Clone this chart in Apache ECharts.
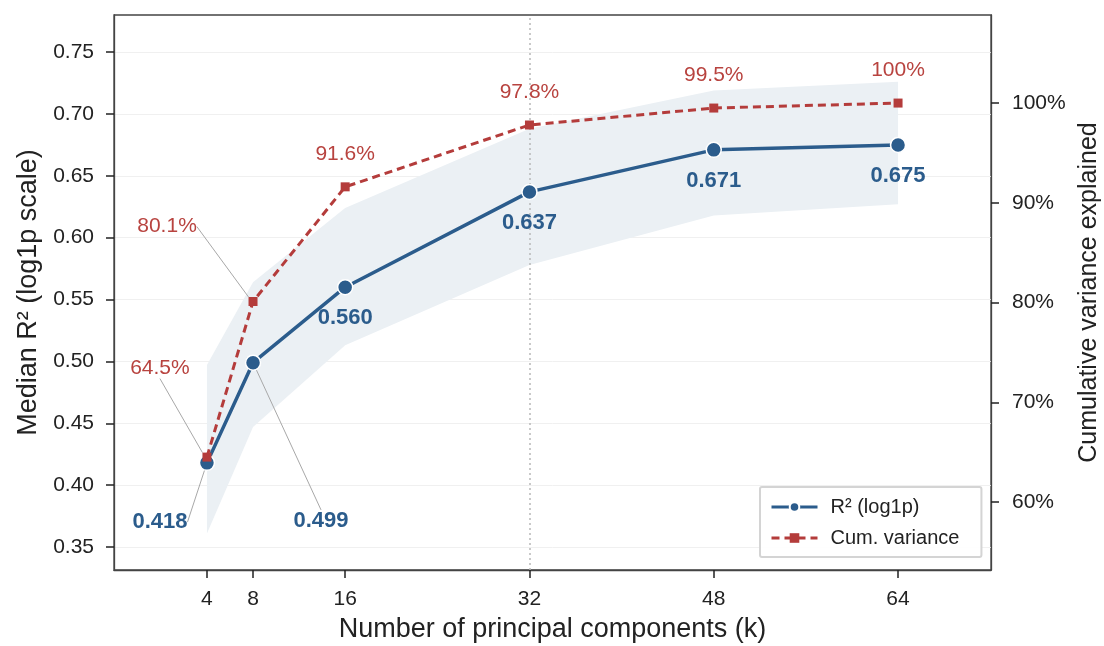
<!DOCTYPE html>
<html>
<head>
<meta charset="utf-8">
<script src="https://cdn.jsdelivr.net/npm/echarts@6/dist/echarts.min.js"></script>
<style>
  html, body { margin: 0; padding: 0; background: #fff; }
  #chart { width: 1104px; height: 646px; }
</style>
</head>
<body>
<div id="chart"></div>
<script>
// ---- data ----
var kValues = [4, 8, 16, 32, 48, 64];
var r2Median = [0.418, 0.499, 0.560, 0.637, 0.671, 0.675];
var r2Lower = [0.361, 0.447, 0.513, 0.578, 0.618, 0.627];
var r2Upper = [0.497, 0.564, 0.624, 0.688, 0.719, 0.726];
var cumVariance = [64.5, 80.1, 91.6, 97.8, 99.5, 100];
var cumLabels = ['64.5%', '80.1%', '91.6%', '97.8%', '99.5%', '100%'];
var xTicks = [4, 8, 16, 32, 48, 64];
var leftTicks = [0.35, 0.40, 0.45, 0.50, 0.55, 0.60, 0.65, 0.70, 0.75];
var rightTicks = [60, 70, 80, 90, 100];
var highlightK = 32;

// ---- style ----
var BLUE = '#2b5c8c';
var RED = '#b43c3b';
var RED_TEXT = '#b8433f';
var BAND = '#ebf0f4';
var FONT = 'Liberation Sans, Arial, sans-serif';

// label offsets (pixels) for labels moved off their default spot
var r2LabelShift = { 0: [-47, 28], 1: [68, 127] };
var cumLabelShift = { 0: [-47, -56], 1: [-86, -42] };

var bandData = kValues.map(function (k, i) { return [k, r2Lower[i], r2Upper[i]]; });

var r2Data = kValues.map(function (k, i) {
  var d = { value: [k, r2Median[i]] };
  if (r2LabelShift[i]) d.labelLine = { show: true };
  return d;
});
var cumData = kValues.map(function (k, i) {
  var d = { value: [k, cumVariance[i]] };
  if (cumLabelShift[i]) d.labelLine = { show: true };
  return d;
});

var chart = echarts.init(document.getElementById('chart'), null, { renderer: 'canvas' });

function renderBand(params, api) {
  if (params.dataIndex !== 0) return null;
  var pts = [];
  var i;
  for (i = 0; i < bandData.length; i++) pts.push(api.coord([bandData[i][0], bandData[i][2]]));
  for (i = bandData.length - 1; i >= 0; i--) pts.push(api.coord([bandData[i][0], bandData[i][1]]));
  return {
    type: 'polygon',
    shape: { points: pts },
    style: { fill: BAND, stroke: null },
    silent: true
  };
}

var option = {
  animation: false,
  backgroundColor: '#fff',
  textStyle: { fontFamily: FONT },
  grid: {
    left: 114, right: 113, top: 15, bottom: 76,
    outerBoundsMode: 'none',
    containLabel: false,
    show: true, borderColor: '#444', borderWidth: 1.3, backgroundColor: 'transparent'
  },
  legend: {
    data: ['R² (log1p)', 'Cum. variance'],
    orient: 'vertical',
    left: 760, top: 487,
    itemWidth: 46, itemHeight: 12, itemGap: 11,
    padding: [10, 22, 9, 10],
    borderColor: '#d4d4d4', borderWidth: 2, borderRadius: 2,
    backgroundColor: 'rgba(255,255,255,0.9)',
    lineStyle: { width: 3 },
    textStyle: { fontSize: 20, color: '#222', fontFamily: FONT, padding: [0, 0, 0, 8] }
  },
  xAxis: {
    type: 'value',
    min: -4.07, max: 72.07,
    name: 'Number of principal components (k)',
    nameLocation: 'middle', nameGap: 46,
    nameTextStyle: { fontSize: 27, color: '#222', fontFamily: FONT },
    axisLine: { show: true, onZero: false, lineStyle: { color: '#444', width: 1.3 } },
    axisTick: { show: true, customValues: xTicks, length: 8, lineStyle: { color: '#222', width: 1.5 } },
    axisLabel: { customValues: xTicks, fontSize: 21, color: '#222', margin: 19, fontFamily: FONT },
    splitLine: { show: false }
  },
  yAxis: [
    {
      type: 'value',
      min: 0.3314, max: 0.780,
      name: 'Median R² (log1p scale)',
      nameLocation: 'middle', nameGap: 70, nameRotate: 90,
      nameTextStyle: { fontSize: 27, color: '#222', fontFamily: FONT },
      axisLine: { show: true, onZero: false, lineStyle: { color: '#444', width: 1.3 } },
      axisTick: { show: true, customValues: leftTicks, length: 8, lineStyle: { color: '#222', width: 1.5 } },
      axisLabel: {
        customValues: leftTicks, fontSize: 21, color: '#222', margin: 20, fontFamily: FONT,
        formatter: function (v) { return v.toFixed(2); }
      },
      splitLine: { show: true, lineStyle: { color: '#f0f0f0', width: 1 } }
    },
    {
      type: 'value',
      min: 53.18, max: 108.83,
      position: 'right',
      name: 'Cumulative variance explained',
      nameLocation: 'middle', nameGap: 86, nameRotate: 90,
      nameTextStyle: { fontSize: 25, color: '#222', fontFamily: FONT },
      axisLine: { show: true, onZero: false, lineStyle: { color: '#444', width: 1.3 } },
      axisTick: { show: true, customValues: rightTicks, length: 8, lineStyle: { color: '#222', width: 1.5 } },
      axisLabel: {
        customValues: rightTicks, fontSize: 21, color: '#222', margin: 21, fontFamily: FONT,
        formatter: function (v) { return Math.round(v) + '%'; }
      },
      splitLine: { show: false }
    }
  ],
  series: [
    {
      name: 'band',
      type: 'custom',
      renderItem: renderBand,
      data: bandData,
      encode: { x: 0, y: [1, 2] },
      silent: true,
      z: 1,
      markLine: {
        silent: true,
        z: 2,
        symbol: 'none',
        label: { show: false },
        lineStyle: { color: '#b8b8b8', type: [2, 3], width: 1.5 },
        data: [{ xAxis: highlightK }]
      }
    },
    {
      name: 'R² (log1p)',
      type: 'line',
      yAxisIndex: 0,
      data: r2Data,
      symbol: 'circle',
      symbolSize: 15,
      itemStyle: { color: BLUE, borderColor: '#fff', borderWidth: 1.5 },
      lineStyle: { color: BLUE, width: 3.5 },
      z: 3,
      label: {
        show: true, position: 'bottom', distance: 12,
        fontSize: 22, fontWeight: 'bold', color: BLUE, fontFamily: FONT,
        formatter: function (p) { return p.value[1].toFixed(3); }
      },
      labelLine: { show: false, lineStyle: { color: '#a8a8a8', width: 1 } },
      labelLayout: function (p) {
        var s = r2LabelShift[p.dataIndex];
        return s ? { dx: s[0], dy: s[1] } : {};
      }
    },
    {
      name: 'Cum. variance',
      type: 'line',
      yAxisIndex: 1,
      data: cumData,
      symbol: 'rect',
      symbolSize: 9,
      itemStyle: { color: RED },
      lineStyle: { color: RED, width: 3, type: [8, 5] },
      z: 4,
      label: {
        show: true, position: 'top', distance: 18,
        fontSize: 21, color: RED_TEXT, fontFamily: FONT,
        formatter: function (p) { return cumLabels[p.dataIndex]; }
      },
      labelLine: { show: false, lineStyle: { color: '#a8a8a8', width: 1 } },
      labelLayout: function (p) {
        var s = cumLabelShift[p.dataIndex];
        return s ? { dx: s[0], dy: s[1] } : {};
      }
    }
  ]
};

chart.setOption(option);
</script>
</body>
</html>
